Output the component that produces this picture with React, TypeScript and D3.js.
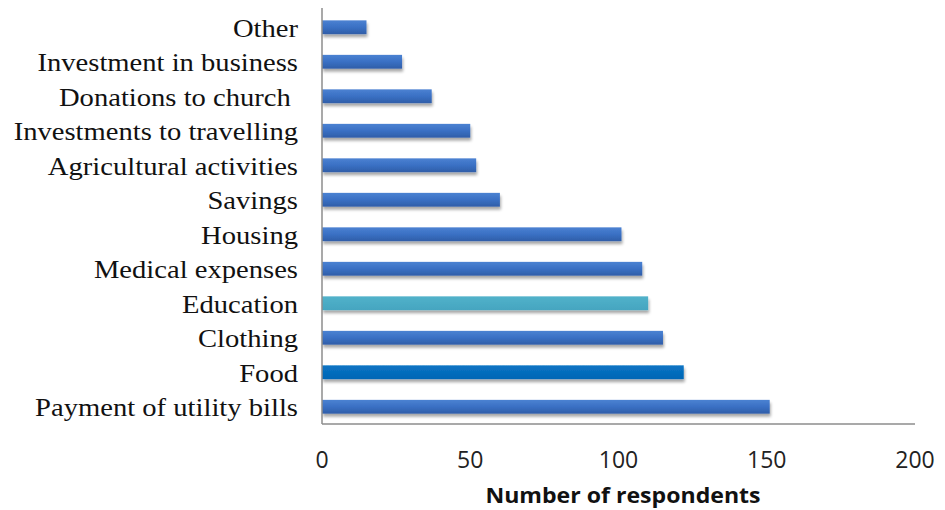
import React from "react";
import * as d3 from "d3";

const categories = [
  "Other",
  "Investment in business",
  "Donations to church ",
  "Investments to travelling",
  "Agricultural activities",
  "Savings",
  "Housing",
  "Medical expenses",
  "Education",
  "Clothing",
  "Food",
  "Payment of utility bills",
];
const values = [15, 27, 37, 50, 52, 60, 101, 108, 110, 115, 122, 151];
const barColors = ["main", "main", "main", "main", "main", "main", "main", "main", "edu", "main", "food", "main"];
const xTicks = [0, 50, 100, 150, 200];

export default function App() {
  const W = 945, H = 510;
  const left = 322, right = 915, top = 10, bottom = 424;
  const x = d3.scaleLinear().domain([0, 200]).range([left, right]);
  const y = d3.scaleBand<string>().domain(categories).range([top, bottom]).paddingInner(0.6).paddingOuter(0.3);
  const fills: Record<string, string> = {
    main: "url(#gMain)",
    edu: "url(#gEdu)",
    food: "url(#gFood)",
  };
  return (
    <svg width={W} height={H} style={{ position: "absolute", left: 0, top: 0, background: "#fff" }}>
      <defs>
        <linearGradient id="gMain" x1="0" y1="0" x2="0" y2="1">
          <stop offset="0" stopColor="#4B82D2" />
          <stop offset="0.5" stopColor="#3A70C4" />
          <stop offset="1" stopColor="#2F5EA8" />
        </linearGradient>
        <linearGradient id="gEdu" x1="0" y1="0" x2="0" y2="1">
          <stop offset="0" stopColor="#52B2CA" />
          <stop offset="1" stopColor="#45A5C0" />
        </linearGradient>
        <linearGradient id="gFood" x1="0" y1="0" x2="0" y2="1">
          <stop offset="0" stopColor="#0A74C4" />
          <stop offset="1" stopColor="#0066B5" />
        </linearGradient>
        <filter id="shadow" x="-5%" y="-50%" width="115%" height="250%">
          <feGaussianBlur in="SourceAlpha" stdDeviation="1.6" />
          <feOffset dx="1" dy="3" result="b" />
          <feComponentTransfer>
            <feFuncA type="linear" slope="0.35" />
          </feComponentTransfer>
          <feMerge>
            <feMergeNode />
            <feMergeNode in="SourceGraphic" />
          </feMerge>
        </filter>
      </defs>
      {categories.map((c, i) => (
        <rect
          key={c}
          x={x(0)}
          y={y(c)!}
          width={x(values[i]) - x(0)}
          height={y.bandwidth()}
          fill={fills[barColors[i]]}
          filter="url(#shadow)"
        />
      ))}
      <line x1={left} x2={left} y1={8} y2={bottom} stroke="#8c8c8c" strokeWidth={1.5} />
      <line x1={left} x2={right} y1={bottom} y2={bottom} stroke="#8c8c8c" strokeWidth={1.5} />
      {categories.map((c) => (
        <g key={c} transform={`translate(298,${y(c)! + y.bandwidth() / 2 + 1}) scale(1.1,1)`}>
          <text
            x={0}
            y={0}
            textAnchor="end"
            dominantBaseline="central"
            fontFamily="'Liberation Serif', 'Times New Roman', serif"
            fontSize={26}
            fill="#111"
            style={{ whiteSpace: "pre" }}
          >
            {c}
          </text>
        </g>
      ))}
      {xTicks.map((t) => (
        <text
          key={t}
          x={x(t)}
          y={459}
          textAnchor="middle"
          dominantBaseline="central"
          fontFamily="'Open Sans', 'Liberation Sans', sans-serif"
          fontSize={23}
          fill="#222"
        >
          {t}
        </text>
      ))}
      <g transform="translate(623,503) scale(1.05,1)">
        <text
          x={0}
          y={0}
          textAnchor="middle"
          fontFamily="'Open Sans', 'Liberation Sans', sans-serif"
          fontSize={22}
          fontWeight="bold"
          fill="#111"
        >
          Number of respondents
        </text>
      </g>
    </svg>
  );
}
